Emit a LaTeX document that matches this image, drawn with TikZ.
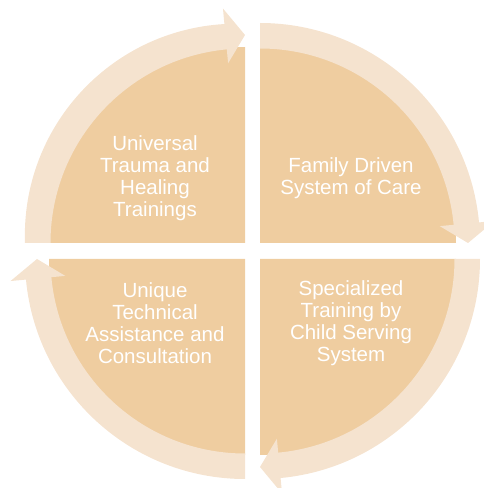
\documentclass[tikz,border=0pt]{standalone}
\usepackage{fontspec}
\setmainfont{Liberation Sans}
\definecolor{piecol}{RGB}{239,205,160}
\definecolor{bandcol}{RGB}{245,227,207}
\begin{document}
\begin{tikzpicture}[x=1pt,y=1pt,
  piece/.style={fill=piecol},
  band/.style={fill=bandcol},
  lbl/.style={text=white,align=center,font=\fontsize{20.5}{22}\selectfont,inner sep=0pt}]
\useasboundingbox (0,0) rectangle (484,488);
\clip (0,0) rectangle (484,488);
% quadrant pies
\fill[piece] (245,245) -- ++(180:196) arc[start angle=180,end angle=90,radius=196] -- cycle;
\fill[piece] (260,245) -- ++(90:196) arc[start angle=90,end angle=0,radius=196] -- cycle;
\fill[piece] (260,229) -- ++(0:196) arc[start angle=0,end angle=-90,radius=196] -- cycle;
\fill[piece] (245,229) -- ++(270:196) arc[start angle=270,end angle=180,radius=196] -- cycle;
% arrows
\fill[band,shift={(245,245)}] (180:194.5) -- (-220,0)
  arc[start angle=182.03,end angle=93.33,radius=211.83]
  -- (95.37:235.5) -- (90:208) -- (95.37:180.5) -- (95.37:194.5)
  arc[start angle=95.37,end angle=180,radius=194.5] -- cycle;
\fill[band,shift={(260,245)}] (90:194.5) -- (90:220)
  arc[start angle=90,end angle=5.37,radius=220]
  -- (5.37:235.5) -- (0:208) -- (5.37:180.5) -- (5.37:194.5)
  arc[start angle=5.37,end angle=90,radius=194.5] -- cycle;
\fill[band,shift={(260,229)}] (0:194.5) -- (0:220)
  arc[start angle=0,end angle=-84.63,radius=220]
  -- (-84.63:235.5) -- (-90:208) -- (-84.63:180.5) -- (-84.63:194.5)
  arc[start angle=-84.63,end angle=0,radius=194.5] -- cycle;
\fill[band,shift={(245,229)}] (270:194.5) -- (270:220)
  arc[start angle=270,end angle=185.37,radius=220]
  -- (185.37:235.5) -- (180:208) -- (185.37:180.5) -- (185.37:194.5)
  arc[start angle=185.37,end angle=270,radius=194.5] -- cycle;
% labels
\node[lbl] (tl) at (155,310) {Universal\\Trauma and\\Healing\\Trainings};
\node[lbl] (tr) at (351,310) {Family Driven\\System of Care};
\node[lbl] (br) at (351,165) {Specialized\\Training by\\Child Serving\\System};
\node[lbl] (bl) at (155,165) {Unique\\Technical\\Assistance and\\Consultation};
\end{tikzpicture}
\end{document}
